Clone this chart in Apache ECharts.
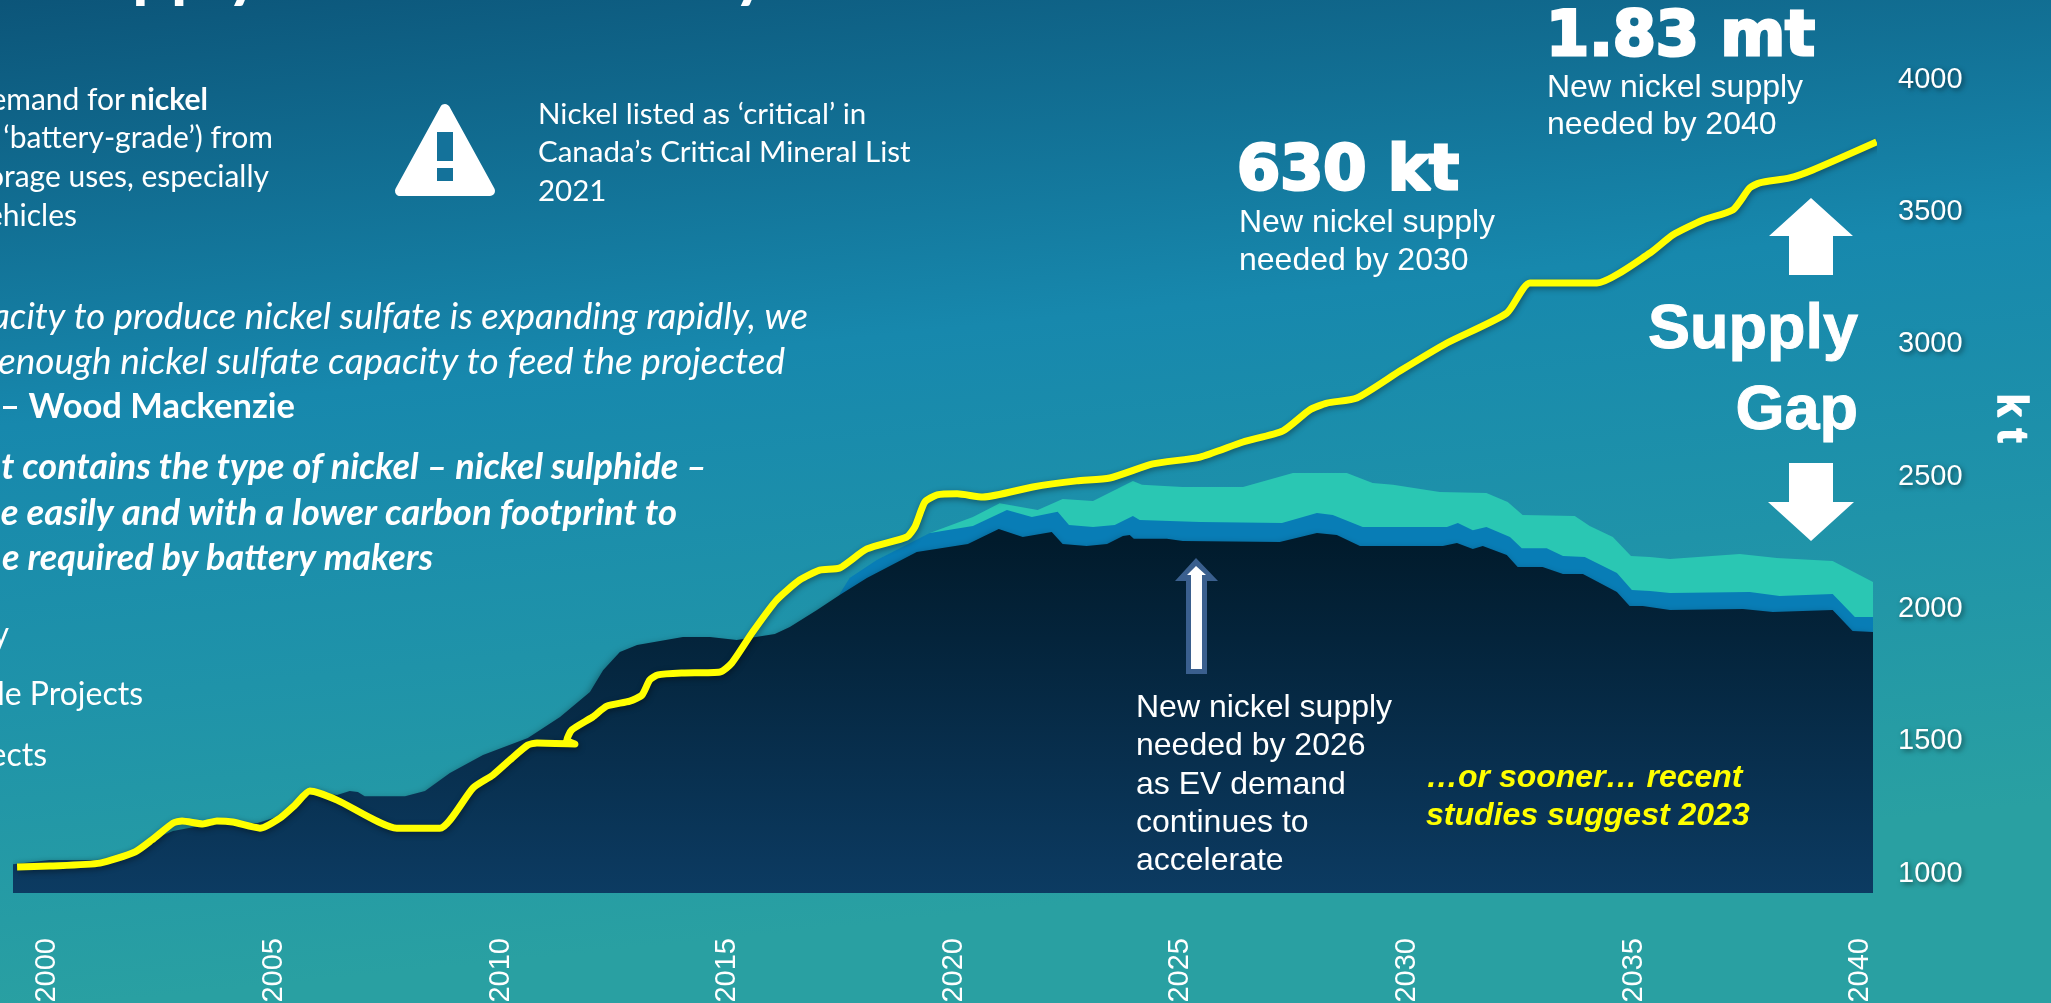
<!DOCTYPE html>
<html>
<head>
<meta charset="utf-8">
<title>Nickel supply gap</title>
<style>html,body{margin:0;padding:0;background:#1888ad}#chart{width:2051px;height:1003px}</style>
<script src="https://cdn.jsdelivr.net/npm/echarts@6/dist/echarts.min.js"></script>
</head>
<body>
<div id="chart"></div>
<script>
// Tick labels
const yearTicks = [2000, 2005, 2010, 2015, 2020, 2025, 2030, 2035, 2040];
const tonnageTicks = [1000, 1500, 2000, 2500, 3000, 3500, 4000];

// Nickel demand, kt
const demandYears = [1999.43,2000.15,2001.26,2002.03,2002.40,2002.87,2003.07,2003.53,2003.84,2004.19,2004.79,2005.23,2005.56,2005.89,2006.49,2007.81,2008.76,2009.49,2009.93,2010.30,2010.70,2010.90,2011.74,2011.56,2011.67,2012.13,2012.44,2012.95,2013.22,2013.39,2013.57,2014.12,2014.94,2015.20,2015.66,2016.19,2016.70,2017.14,2017.58,2018.18,2019.06,2019.24,2019.46,2019.73,2020.17,2020.74,2021.84,2022.81,2023.54,2024.49,2025.53,2026.48,2027.36,2027.95,2028.33,2028.99,2029.94,2030.98,2032.30,2032.81,2034.29,2035.46,2035.96,2036.63,2037.29,2037.66,2037.88,2038.54,2039.05,2040.46];
const demandValues = [1015,1019,1030,1072,1117,1181,1189,1178,1189,1185,1162,1200,1249,1302,1268,1162,1162,1314,1363,1419,1476,1484,1480,1495,1533,1582,1623,1642,1665,1722,1741,1748,1752,1786,1903,2024,2100,2137,2145,2217,2262,2300,2394,2421,2425,2413,2451,2474,2485,2538,2564,2621,2663,2742,2768,2787,2889,2995,3108,3222,3222,3335,3403,3460,3498,3581,3600,3619,3649,3755];

// Primary supply, kt
const supplyYears = [1999.34,2000.15,2001.26,2002.03,2002.40,2002.87,2003.46,2003.84,2004.72,2005.16,2005.56,2005.89,2006.49,2006.77,2006.95,2007.10,2007.99,2008.43,2008.98,2009.71,2010.70,2011.41,2012.07,2012.36,2012.73,2013.11,2014.12,2014.72,2015.31,2016.15,2016.48,2017.08,2017.58,2018.18,2019.28,2020.41,2021.09,2021.62,2022.26,2022.50,2023.03,2023.48,2023.83,2023.98,2024.07,2024.80,2025.15,2027.29,2028.11,2028.55,2029.06,2030.89,2031.20,2031.55,2031.77,2032.30,2032.54,2033.09,2033.54,2033.98,2034.73,2035.01,2035.30,2035.90,2037.51,2038.17,2039.49,2039.93,2040.38];
const supplyValues = [1026,1042,1042,1072,1117,1151,1170,1178,1181,1204,1249,1302,1287,1302,1299,1283,1283,1302,1370,1438,1503,1582,1676,1759,1828,1854,1884,1884,1873,1896,1922,1986,2043,2107,2205,2236,2292,2262,2281,2236,2228,2236,2266,2270,2255,2255,2247,2243,2277,2270,2228,2228,2239,2217,2228,2194,2149,2149,2122,2122,2054,2001,2001,1986,1990,1979,1986,1907,1903];

// Supply including the first tier of projects, kt
const tierOneYears = [2017.58,2017.80,2018.40,2019.57,2020.52,2021.27,2021.82,2022.39,2022.64,2023.17,2023.65,2024.05,2024.20,2025.53,2027.34,2028.11,2028.46,2029.12,2030.98,2031.22,2031.55,2031.85,2032.37,2032.63,2033.18,2033.54,2034.02,2034.73,2035.06,2035.46,2035.90,2037.66,2038.32,2039.49,2039.98,2040.38];
const tierOneValues = [2047,2107,2175,2277,2304,2364,2338,2357,2307,2300,2307,2341,2326,2319,2315,2353,2345,2300,2300,2315,2288,2300,2262,2220,2220,2190,2186,2126,2062,2058,2050,2054,2039,2047,1960,1960];

// Supply including the second tier of projects, kt
const tierTwoYears = [2019.57,2020.52,2021.11,2021.95,2022.50,2023.17,2024.05,2024.25,2025.15,2026.48,2027.58,2028.77,2029.34,2029.79,2030.82,2031.85,2032.32,2032.65,2033.80,2034.13,2034.64,2035.04,2035.46,2035.90,2037.44,2038.26,2039.49,2040.38];
const tierTwoValues = [2277,2338,2390,2364,2406,2398,2474,2459,2451,2451,2504,2504,2466,2459,2432,2428,2394,2345,2341,2304,2262,2190,2186,2179,2198,2183,2171,2092];

const pairs = (xs, ys) => xs.map((x, i) => [x, ys[i]]);

const CALIBRI = 'Lato, "Open Sans", sans-serif';
const ARIAL = '"Liberation Sans", Arial, sans-serif';
const HEAVY = '"DejaVu Sans", sans-serif';

function label(text, x, y, size, opts) {
  const o = opts || {};
  return {
    type: 'text', x, y, rotation: o.rotation || 0, z: 50,
    style: {
      text, x: 0, y: 0,
      fill: o.fill || '#ffffff',
      font: `${o.italic ? 'italic ' : ''}${o.bold ? 'bold ' : ''}${size}px ${o.family || CALIBRI}`,
      align: o.align || 'left',
      verticalAlign: 'middle',
      stroke: o.stroke, lineWidth: o.lineWidth || 0,
      shadowBlur: o.shadow ? 6 : 0, shadowColor: 'rgba(0,0,0,0.55)',
      shadowOffsetX: o.shadow ? 3 : 0, shadowOffsetY: o.shadow ? 3 : 0
    }
  };
}
function arrow(points, fill) {
  return { type: 'polygon', z: 40, shape: { points }, style: { fill } };
}

const notes = [
  // Heading, running off the top edge
  label('Supply', 57, -28, 68, { bold: true }),
  label('y', 733, -28, 68, { bold: true }),

  // Demand paragraph
  label('emand for', 125, 100, 30, { align: 'right' }),
  label('nickel', 208, 100, 30, { align: 'right', bold: true }),
  label('‘battery-grade’) from', 273, 138, 30, { align: 'right' }),
  label('orage uses, especially', 269, 177, 30, { align: 'right' }),
  label('ehicles', 77, 216, 30, { align: 'right' }),

  // Critical mineral note
  label('Nickel listed as ‘critical’ in', 538, 114, 29.5),
  label('Canada’s Critical Mineral List', 538, 152, 29.5),
  label('2021', 538, 191, 29.5),

  // Quotes
  label('acity to produce nickel sulfate is expanding rapidly, we', 808, 317, 36.5, { align: 'right', italic: true }),
  label('enough nickel sulfate capacity to feed the projected', 785, 362, 37, { align: 'right', italic: true }),
  label('– Wood Mackenzie', 295, 407, 34.5, { align: 'right', bold: true }),
  label('t contains the type of nickel – nickel sulphide –', 707, 467, 36, { align: 'right', italic: true, bold: true }),
  label('e easily and with a lower carbon footprint to', 677, 513, 36.5, { align: 'right', italic: true, bold: true }),
  label('e required by battery makers', 433, 558, 36, { align: 'right', italic: true, bold: true }),

  // Legend entries
  label('y', 9, 635, 32, { align: 'right' }),
  label('le Projects', 143, 695, 32, { align: 'right' }),
  label('ects', 47, 756, 32, { align: 'right' }),

  // Call-outs
  label('630 kt', 1237, 173, 62, { family: HEAVY, bold: true, stroke: '#fff', lineWidth: 3 }),
  label('New nickel supply', 1239, 223, 32, { family: ARIAL }),
  label('needed by 2030', 1239, 261, 32, { family: ARIAL }),
  label('1.83 mt', 1546, 39, 62, { family: HEAVY, bold: true, stroke: '#fff', lineWidth: 3 }),
  label('New nickel supply', 1547, 88, 32, { family: ARIAL }),
  label('needed by 2040', 1547, 125, 32, { family: ARIAL }),
  label('Supply', 1858, 331, 63, { family: ARIAL, bold: true, align: 'right', shadow: true, stroke: '#fff', lineWidth: 1 }),
  label('Gap', 1858, 412, 63, { family: ARIAL, bold: true, align: 'right', shadow: true, stroke: '#fff', lineWidth: 1 }),
  label('New nickel supply', 1136, 708, 32, { family: ARIAL }),
  label('needed by 2026', 1136, 746, 32, { family: ARIAL }),
  label('as EV demand', 1136, 785, 32, { family: ARIAL }),
  label('continues to', 1136, 823, 32, { family: ARIAL }),
  label('accelerate', 1136, 861, 32, { family: ARIAL }),
  label('…or sooner… recent', 1426, 778, 32, { family: ARIAL, bold: true, italic: true, fill: '#ffff00' }),
  label('studies suggest 2023', 1426, 816, 32, { family: ARIAL, bold: true, italic: true, fill: '#ffff00' }),

  // Axis title
  label('k t', 2010, 418, 42, { family: ARIAL, bold: true, rotation: -Math.PI / 2, align: 'center', shadow: true, stroke: '#fff', lineWidth: 1.5 }),

  // Supply-gap arrows
  arrow([[1811, 198], [1853, 236], [1833, 236], [1833, 275], [1789, 275], [1789, 236], [1769, 236]], '#ffffff'),
  arrow([[1789, 463], [1833, 463], [1833, 502], [1854, 502], [1811, 541], [1768, 502], [1789, 502]], '#ffffff'),

  // 2026 marker arrow
  arrow([[1196, 558], [1218, 581], [1207, 581], [1207, 674], [1186, 674], [1186, 581], [1175, 581]], '#3a5f8e'),
  arrow([[1196, 566], [1206, 575], [1202, 575], [1202, 669], [1191, 669], [1191, 575], [1187, 575]], '#ffffff'),

  // Warning sign
  {
    type: 'polygon', z: 40,
    shape: { points: [[445, 109], [400, 191], [490, 191]] },
    style: { fill: '#ffffff', stroke: '#ffffff', lineWidth: 10, lineJoin: 'round' }
  },
  { type: 'rect', z: 41, shape: { x: 437, y: 132, width: 16, height: 29 }, style: { fill: '#14729a' } },
  { type: 'rect', z: 41, shape: { x: 437, y: 168, width: 16, height: 13 }, style: { fill: '#14729a' } }
];

function areaSeries(name, data, fill, extra) {
  return {
    name, type: 'line', data, showSymbol: false, symbol: 'none',
    lineStyle: { width: 0 },
    areaStyle: Object.assign({ color: fill, opacity: 1 }, extra || {}),
    silent: true
  };
}

const chart = echarts.init(document.getElementById('chart'), null, { renderer: 'canvas' });
chart.setOption({
  animation: false,
  backgroundColor: new echarts.graphic.LinearGradient(0, 0, 0.05, 1, [
    { offset: 0, color: '#0c5579' },
    { offset: 0.42, color: '#1788ad' },
    { offset: 0.7, color: '#1f93a9' },
    { offset: 1, color: '#29a0a2' }
  ]),
  grid: { left: 13, right: 178, top: 77, bottom: 110, containLabel: false, outerBoundsMode: 'none' },
  xAxis: {
    type: 'value', min: 1999.34, max: 2040.38,
    axisLine: { show: false }, axisTick: { show: false }, splitLine: { show: false },
    axisLabel: {
      customValues: yearTicks, rotate: 90, margin: 45, color: '#ffffff',
      fontFamily: ARIAL, fontSize: 29, formatter: v => String(v),
      verticalAlign: 'top', padding: [-10, 0, 0, 0], hideOverlap: false
    }
  },
  yAxis: {
    type: 'value', min: 917, max: 4000,
    axisLine: { show: false }, axisTick: { show: false }, splitLine: { show: false },
    position: 'right',
    axisLabel: {
      customValues: tonnageTicks, margin: 25, color: '#ffffff',
      fontFamily: ARIAL, fontSize: 29, formatter: v => String(v),
      verticalAlign: 'top', padding: [-12, 0, 0, 0],
      textShadowColor: 'rgba(0,0,0,0.5)', textShadowBlur: 5, textShadowOffsetX: 2, textShadowOffsetY: 2
    }
  },
  series: [
    areaSeries('Supply with second-tier projects', pairs(tierTwoYears, tierTwoValues), '#2ac7b3'),
    areaSeries('Supply with first-tier projects', pairs(tierOneYears, tierOneValues), '#087db6'),
    areaSeries('Primary supply', pairs(supplyYears, supplyValues),
      new echarts.graphic.LinearGradient(0, 540, 0, 893, [
        { offset: 0, color: '#011b2c' },
        { offset: 1, color: '#0c3b62' }
      ], true),
      { shadowBlur: 8, shadowOffsetX: -2, shadowOffsetY: 4, shadowColor: 'rgba(0,0,0,0.45)' }),
    {
      name: 'Demand', type: 'line', data: pairs(demandYears, demandValues),
      showSymbol: false, symbol: 'none', clip: false, smooth: 0.2, silent: true,
      lineStyle: {
        color: '#ffff00', width: 7, join: 'round', cap: 'butt',
        shadowBlur: 6, shadowOffsetX: 1, shadowOffsetY: 2, shadowColor: 'rgba(0,0,0,0.4)'
      }
    }
  ],
  graphic: notes
});
</script>
</body>
</html>
